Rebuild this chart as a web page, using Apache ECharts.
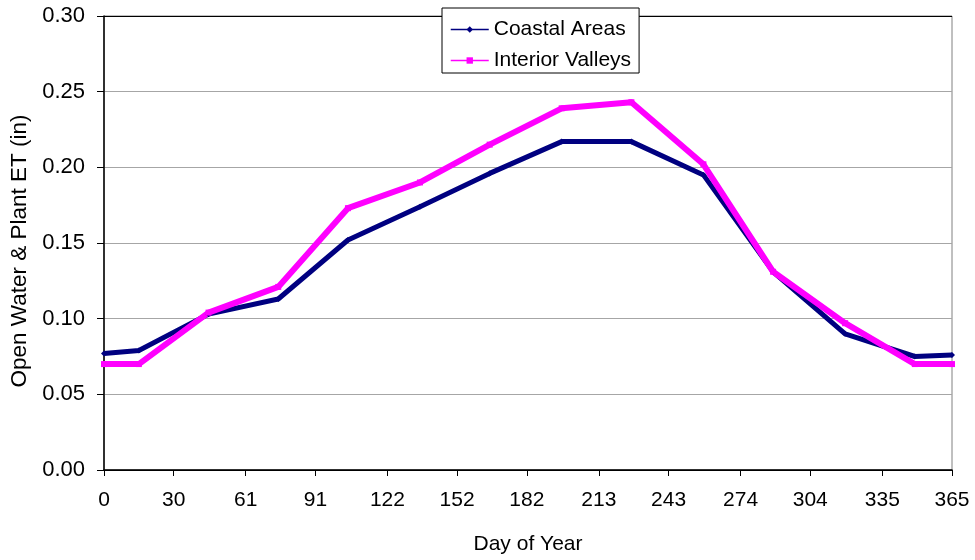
<!DOCTYPE html>
<html>
<head>
<meta charset="utf-8">
<script src="https://cdn.jsdelivr.net/npm/echarts@6/dist/echarts.min.js"></script>
<style>
  html, body { margin: 0; padding: 0; background: #fff; }
  #chart { width: 975px; height: 560px; }
</style>
</head>
<body>
<div id="chart"></div>
<script>
// Daily open water & plant ET, mid-month values (day of year)
const days = [0, 15, 45, 75, 105, 136, 166, 197, 227, 258, 288, 319, 349, 365];
const coastal = [0.077, 0.079, 0.103, 0.113, 0.152, 0.174, 0.196, 0.217, 0.217, 0.195, 0.131, 0.090, 0.075, 0.076];
const interior = [0.070, 0.070, 0.104, 0.121, 0.173, 0.190, 0.215, 0.239, 0.243, 0.202, 0.131, 0.097, 0.070, 0.070];
const xTicks = [0, 30, 61, 91, 122, 152, 182, 213, 243, 274, 304, 335, 365];

const font = 'Liberation Sans, Arial, sans-serif';
const pair = (xs, ys) => xs.map((d, i) => [d, ys[i]]);

const chart = echarts.init(document.getElementById('chart'));
chart.setOption({
  animation: false,
  backgroundColor: '#fff',
  grid: {
    left: 104, right: 23, top: 16, bottom: 88,
    show: true, borderColor: '#808080', borderWidth: 1, backgroundColor: 'transparent'
  },
  legend: {
    orient: 'vertical',
    left: 442, top: 8,
    padding: [11, 8, 2, 8],
    itemGap: 10,
    itemWidth: 38, itemHeight: 8,
    backgroundColor: '#fff',
    borderColor: '#000', borderWidth: 1,
    lineStyle: { width: 1.5 },
    textStyle: { fontFamily: font, fontSize: 21, color: '#000' },
    data: ['Coastal Areas', 'Interior Valleys']
  },
  xAxis: {
    type: 'value',
    min: 0, max: 365,
    name: 'Day of Year',
    nameLocation: 'middle',
    nameGap: 64,
    nameTextStyle: { fontFamily: font, fontSize: 21, color: '#000' },
    axisLine: { lineStyle: { color: '#000', width: 1.5 } },
    axisTick: { show: true, length: 6, customValues: xTicks, lineStyle: { color: '#000' } },
    axisLabel: {
      customValues: xTicks,
      margin: 20,
      fontFamily: font, fontSize: 21, color: '#000',
      formatter: v => String(v)
    },
    splitLine: { show: false }
  },
  yAxis: {
    type: 'value',
    min: 0, max: 0.30, interval: 0.05,
    name: 'Open Water & Plant ET (in)',
    nameLocation: 'middle',
    nameGap: 72,
    nameTextStyle: { fontFamily: font, fontSize: 22.5, color: '#000', padding: [0, 16, 0, 0] },
    axisLine: { show: true, lineStyle: { color: '#000', width: 1.5 } },
    axisTick: { show: true, length: 7, lineStyle: { color: '#000' } },
    axisLabel: {
      margin: 19,
      fontFamily: font, fontSize: 22, color: '#000',
      formatter: v => v.toFixed(2)
    },
    splitLine: {
      show: true,
      lineStyle: { color: ['#000', '#a6a6a6', '#a6a6a6', '#a6a6a6', '#a6a6a6', '#a6a6a6', '#000'], width: 1 }
    }
  },
  series: [
    {
      name: 'Coastal Areas',
      type: 'line',
      data: pair(days, coastal),
      color: '#000080',
      symbol: 'diamond',
      symbolSize: 6,
      showSymbol: true,
      lineStyle: { width: 5, color: '#000080', join: 'round' },
      itemStyle: { color: '#000080' }
    },
    {
      name: 'Interior Valleys',
      type: 'line',
      data: pair(days, interior),
      color: '#ff00ff',
      symbol: 'rect',
      symbolSize: 6,
      showSymbol: true,
      lineStyle: { width: 6, color: '#ff00ff', join: 'round' },
      itemStyle: { color: '#ff00ff' }
    }
  ]
});
</script>
</body>
</html>
